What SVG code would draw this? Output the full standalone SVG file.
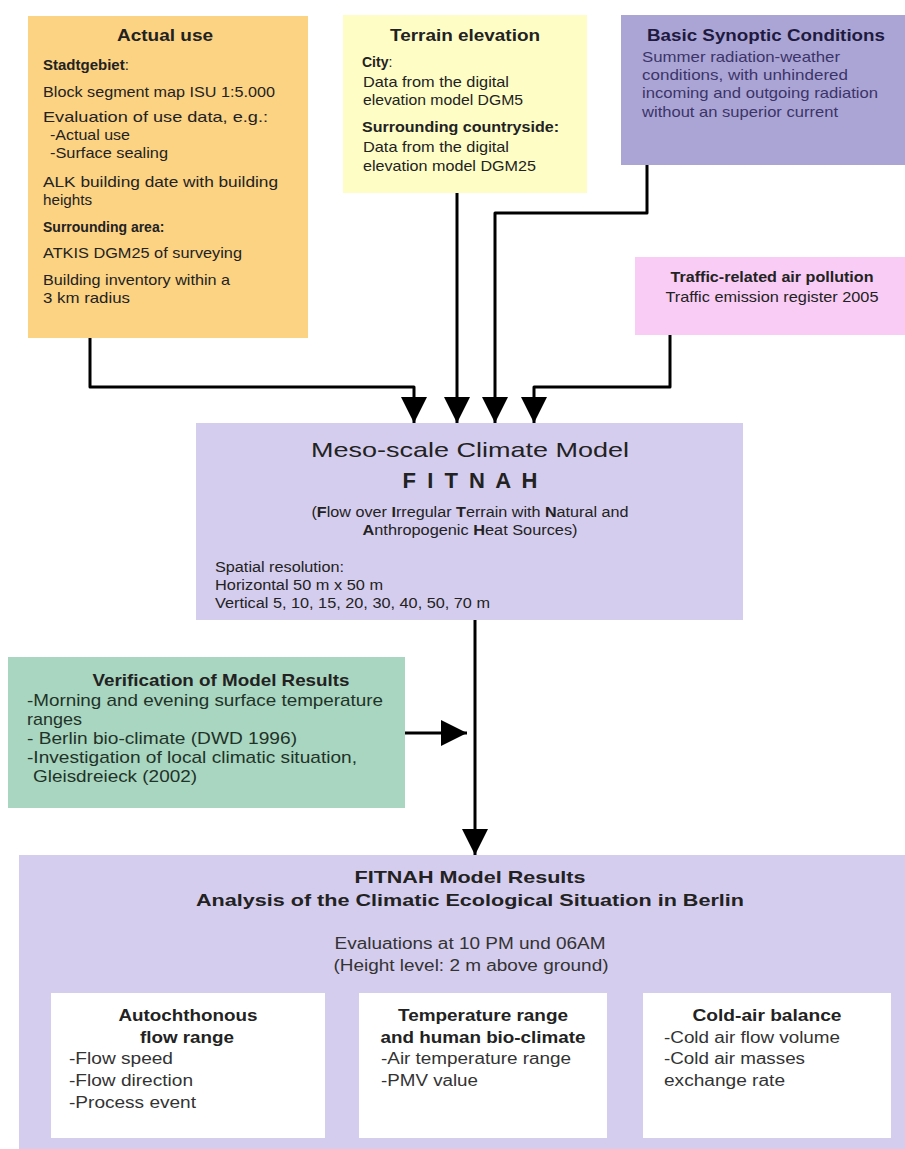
<svg xmlns="http://www.w3.org/2000/svg" width="905" height="1149" viewBox="0 0 905 1149">
<style>
text{font-family:"Liberation Sans",Arial,sans-serif;fill:#222;}
.b{font-weight:bold;}
.t15{font-size:15px;}
.t14{font-size:14px;}
.t16{font-size:16px;}
.t17{font-size:17px;}
.mid{text-anchor:middle;}
.syn{fill:#3b3468;}
.grn{fill:#1f3328;}
.dk{fill:#333;}
.conn{fill:none;stroke:#000;stroke-width:3;stroke-linejoin:round;}
</style>
<defs>
<marker id="ah" viewBox="0 0 26 26" refX="26" refY="13" markerWidth="26" markerHeight="26" markerUnits="userSpaceOnUse" orient="auto">
<path d="M0,0 L26,13 L0,26 z" fill="#000"/>
</marker>
</defs>
<rect width="905" height="1149" fill="#fff"/>

<g id="actual-use">
<rect x="28" y="16" width="280" height="322" fill="#FCD283"/>
<text class="b t16 mid" x="165" y="41" textLength="96" lengthAdjust="spacingAndGlyphs">Actual use</text>
<text class="t15" x="43" y="70"><tspan class="b">Stadtgebiet</tspan>:</text>
<text class="t15" x="43" y="97" textLength="232" lengthAdjust="spacingAndGlyphs">Block segment map ISU 1:5.000</text>
<text class="t15" x="43" y="122" textLength="225" lengthAdjust="spacingAndGlyphs">Evaluation of use data, e.g.:</text>
<text class="t15" x="50" y="140" textLength="80" lengthAdjust="spacingAndGlyphs">-Actual use</text>
<text class="t15" x="50" y="158" textLength="118" lengthAdjust="spacingAndGlyphs">-Surface sealing</text>
<text class="t15" x="43" y="187" textLength="235" lengthAdjust="spacingAndGlyphs">ALK building date with building</text>
<text class="t15" x="43" y="205" textLength="49" lengthAdjust="spacingAndGlyphs">heights</text>
<text class="b t14" x="43" y="232">Surrounding area:</text>
<text class="t15" x="43" y="258" textLength="199" lengthAdjust="spacingAndGlyphs">ATKIS DGM25 of surveying</text>
<text class="t15" x="43" y="285" textLength="187" lengthAdjust="spacingAndGlyphs">Building inventory within a</text>
<text class="t15" x="43" y="303" textLength="87" lengthAdjust="spacingAndGlyphs">3 km radius</text>
</g>

<g id="terrain-elevation">
<rect x="343" y="15" width="244" height="178" fill="#FEFDC6"/>
<text class="b t16 mid" x="465" y="41" textLength="150" lengthAdjust="spacingAndGlyphs">Terrain elevation</text>
<text class="t14" x="362" y="67"><tspan class="b">City</tspan>:</text>
<text class="t15" x="363" y="87" textLength="146" lengthAdjust="spacingAndGlyphs">Data from the digital</text>
<text class="t15" x="363" y="105" textLength="160" lengthAdjust="spacingAndGlyphs">elevation model DGM5</text>
<text class="b t15" x="362" y="132" textLength="197" lengthAdjust="spacingAndGlyphs">Surrounding countryside:</text>
<text class="t15" x="363" y="152" textLength="146" lengthAdjust="spacingAndGlyphs">Data from the digital</text>
<text class="t15" x="363" y="171" textLength="173" lengthAdjust="spacingAndGlyphs">elevation model DGM25</text>
</g>

<g id="basic-synoptic">
<rect x="621" y="15" width="284" height="150" fill="#ABA5D6"/>
<text class="b t16" x="647" y="41" textLength="238" lengthAdjust="spacingAndGlyphs" style="fill:#1e1a40">Basic Synoptic Conditions</text>
<text class="t15 syn" x="642" y="62" textLength="198" lengthAdjust="spacingAndGlyphs">Summer radiation-weather</text>
<text class="t15 syn" x="642" y="80" textLength="206" lengthAdjust="spacingAndGlyphs">conditions, with unhindered</text>
<text class="t15 syn" x="642" y="98" textLength="236" lengthAdjust="spacingAndGlyphs">incoming and outgoing radiation</text>
<text class="t15 syn" x="642" y="117" textLength="196" lengthAdjust="spacingAndGlyphs">without an superior current</text>
</g>

<g id="traffic">
<rect x="635" y="257" width="270" height="78" fill="#F9CCF5"/>
<text class="b t15 mid" x="772" y="282" textLength="203" lengthAdjust="spacingAndGlyphs">Traffic-related air pollution</text>
<text class="t15 mid" x="772" y="302" textLength="213" lengthAdjust="spacingAndGlyphs">Traffic emission register 2005</text>
</g>

<g id="meso-model">
<rect x="196" y="423" width="547" height="197" fill="#D5CDEE"/>
<text class="mid" x="470" y="457" style="font-size:21px" textLength="318" lengthAdjust="spacingAndGlyphs">Meso-scale Climate Model</text>
<text class="b mid" x="470" y="488" style="font-size:22px" textLength="135" lengthAdjust="spacing">F I T N A H</text>
<text class="t14 mid" x="470" y="517" textLength="317" lengthAdjust="spacingAndGlyphs">(<tspan class="b">F</tspan>low over <tspan class="b">I</tspan>rregular <tspan class="b">T</tspan>errain with <tspan class="b">N</tspan>atural and</text>
<text class="t14 mid" x="470" y="535" textLength="215" lengthAdjust="spacingAndGlyphs"><tspan class="b">A</tspan>nthropogenic <tspan class="b">H</tspan>eat Sources)</text>
<text class="t14" x="215" y="572" textLength="129" lengthAdjust="spacingAndGlyphs">Spatial resolution:</text>
<text class="t14" x="215" y="590" textLength="168" lengthAdjust="spacingAndGlyphs">Horizontal 50 m x 50 m</text>
<text class="t14" x="215" y="608" textLength="275" lengthAdjust="spacingAndGlyphs">Vertical 5, 10, 15, 20, 30, 40, 50, 70 m</text>
</g>

<g id="verification">
<rect x="8" y="657" width="397" height="151" fill="#A9D6C0"/>
<text class="b t17 mid" x="221" y="686" textLength="257" lengthAdjust="spacingAndGlyphs">Verification of Model Results</text>
<text class="t17 grn" x="27" y="706" textLength="356" lengthAdjust="spacingAndGlyphs">-Morning and evening surface temperature</text>
<text class="t17 grn" x="27" y="725" textLength="55" lengthAdjust="spacingAndGlyphs">ranges</text>
<text class="t17 grn" x="27" y="744" textLength="270" lengthAdjust="spacingAndGlyphs">- Berlin bio-climate (DWD 1996)</text>
<text class="t17 grn" x="27" y="763" textLength="330" lengthAdjust="spacingAndGlyphs">-Investigation of local climatic situation,</text>
<text class="t17 grn" x="33" y="782" textLength="164" lengthAdjust="spacingAndGlyphs">Gleisdreieck (2002)</text>
</g>

<g id="results">
<rect x="19" y="855" width="886" height="294" fill="#D5CDEE"/>
<text class="b t17 mid" x="470" y="883" textLength="231" lengthAdjust="spacingAndGlyphs">FITNAH Model Results</text>
<text class="b t17 mid" x="470" y="906" textLength="548" lengthAdjust="spacingAndGlyphs">Analysis of the Climatic Ecological Situation in Berlin</text>
<text class="t16 mid dk" x="470" y="949" textLength="271" lengthAdjust="spacingAndGlyphs">Evaluations at 10 PM und 06AM</text>
<text class="t16 mid dk" x="471" y="971" textLength="275" lengthAdjust="spacingAndGlyphs">(Height level: 2 m above ground)</text>
</g>

<g id="autochthonous">
<rect x="51" y="993" width="274" height="145" fill="#fff"/>
<text class="b t16 mid" x="188" y="1021" textLength="139" lengthAdjust="spacingAndGlyphs">Autochthonous</text>
<text class="b t16 mid" x="187" y="1043" textLength="94" lengthAdjust="spacingAndGlyphs">flow range</text>
<text class="t16 dk" x="69" y="1064" textLength="104" lengthAdjust="spacingAndGlyphs">-Flow speed</text>
<text class="t16 dk" x="69" y="1086" textLength="124" lengthAdjust="spacingAndGlyphs">-Flow direction</text>
<text class="t16 dk" x="69" y="1108" textLength="127" lengthAdjust="spacingAndGlyphs">-Process event</text>
</g>

<g id="temperature">
<rect x="359" y="993" width="248" height="145" fill="#fff"/>
<text class="b t16 mid" x="483" y="1021" textLength="170" lengthAdjust="spacingAndGlyphs">Temperature range</text>
<text class="b t16 mid" x="483" y="1043" textLength="205" lengthAdjust="spacingAndGlyphs">and human bio-climate</text>
<text class="t16 dk" x="381" y="1064" textLength="190" lengthAdjust="spacingAndGlyphs">-Air temperature range</text>
<text class="t16 dk" x="381" y="1086" textLength="97" lengthAdjust="spacingAndGlyphs">-PMV value</text>
</g>

<g id="cold-air">
<rect x="643" y="993" width="248" height="145" fill="#fff"/>
<text class="b t16 mid" x="767" y="1021" textLength="149" lengthAdjust="spacingAndGlyphs">Cold-air balance</text>
<text class="t16 dk" x="664" y="1043" textLength="176" lengthAdjust="spacingAndGlyphs">-Cold air flow volume</text>
<text class="t16 dk" x="664" y="1064" textLength="141" lengthAdjust="spacingAndGlyphs">-Cold air masses</text>
<text class="t16 dk" x="664" y="1086" textLength="121" lengthAdjust="spacingAndGlyphs">exchange rate</text>
</g>

<g id="connectors">
<path class="conn" d="M90,338 V387 H414 V423" marker-end="url(#ah)"/>
<path class="conn" d="M457,193 V423" marker-end="url(#ah)"/>
<path class="conn" d="M647,165 V213 H495 V423" marker-end="url(#ah)"/>
<path class="conn" d="M670,335 V387 H534 V423" marker-end="url(#ah)"/>
<path class="conn" d="M475,620 V855" marker-end="url(#ah)"/>
<path class="conn" d="M405,733 H467" marker-end="url(#ah)"/>
</g>
</svg>
